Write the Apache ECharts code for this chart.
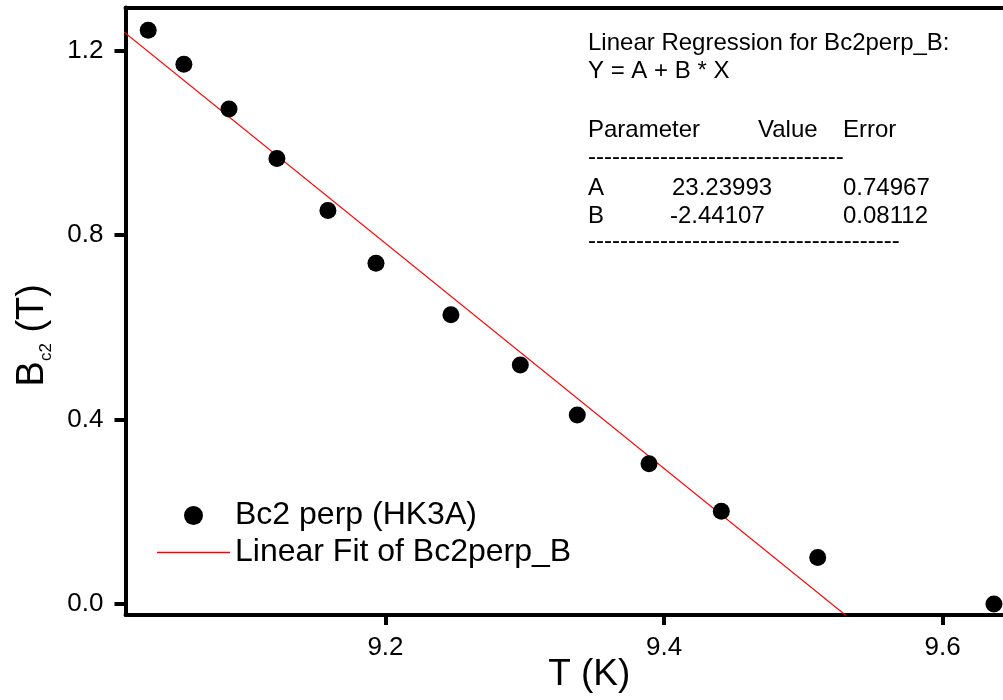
<!DOCTYPE html>
<html><head><meta charset="utf-8">
<script src="https://cdn.jsdelivr.net/npm/echarts@6/dist/echarts.min.js"></script>
<style>html,body{margin:0;padding:0;background:#fff}#c{width:1003px;height:700px}</style>
</head><body><div id="c"></div>
<script>
// ---- data ----
const tempK = [9.0297, 9.0553, 9.0877, 9.1221, 9.1587, 9.1932, 9.2470, 9.2968, 9.3377, 9.3892, 9.4411, 9.5103, 9.6368];
const bc2 = [1.244, 1.170, 1.073, 0.966, 0.853, 0.739, 0.627, 0.518, 0.410, 0.304, 0.201, 0.101, 0.000];
const fitT = [9.0, 9.6];
const fitB = [1.2703, -0.1943];
const xTicks = [9.2, 9.4, 9.6];
const yTicks = [0.0, 0.4, 0.8, 1.2];
const seriesNames = ['Bc2 perp (HK3A)', 'Linear Fit of Bc2perp_B'];
const regTitle = ['Linear Regression for Bc2perp_B:', 'Y = A + B * X'];
const regHeader = ['Parameter', 'Value', 'Error'];
const regRows = [['A', '23.23993', '0.74967'], ['B', '-2.44107', '0.08112']];

const FONT = '"Liberation Sans", Arial, sans-serif';
const chart = echarts.init(document.getElementById('c'), null, {renderer: 'canvas'});

const scatterData = tempK.map((t, i) => [t, bc2[i]]);
const fitData = fitT.map((t, i) => [t, fitB[i]]);

function txt(x, y, s, size) {
  return {type: 'text', x: x, y: y, silent: true,
    style: {text: s, fill: '#000', fontSize: size || 24, fontFamily: FONT, align: 'left', verticalAlign: 'middle'}};
}
const colX = [588, 758, 843];
const rowX = [588, 672, 843];
const graphics = [
  txt(588, 43.5, regTitle[0]),
  txt(588, 71, regTitle[1]),
  txt(colX[0], 130.5, regHeader[0]),
  txt(colX[1], 130.5, regHeader[1]),
  txt(colX[2], 130.5, regHeader[2]),
  txt(588, 157.5, '-'.repeat(32)),
  txt(rowX[0], 188, regRows[0][0]),
  txt(rowX[1], 188, regRows[0][1]),
  txt(rowX[2], 188, regRows[0][2]),
  txt(rowX[0], 216, regRows[1][0]),
  txt(670, 216, regRows[1][1]),
  txt(rowX[2], 216, regRows[1][2]),
  txt(588, 241.5, '-'.repeat(39))
];

const xMin = 9.0134, xMax = 9.6433, yMin = -0.0238, yMax = 1.2932;
const axisLineStyle = {color: '#000', width: 4};

chart.setOption({
  animation: false,
  backgroundColor: '#fff',
  grid: {left: 125.5, right: 0, top: 7.5, bottom: 85, containLabel: false, outerBoundsMode: 'none'},
  xAxis: [{
    type: 'value', position: 'bottom', min: xMin, max: xMax,
    axisLine: {show: true, onZero: false, lineStyle: axisLineStyle},
    axisTick: {show: true, customValues: xTicks, length: 10, inside: false, lineStyle: {color: '#000', width: 4}},
    axisLabel: {customValues: xTicks, formatter: v => v.toFixed(1), fontSize: 26, color: '#000', fontFamily: FONT, margin: 20},
    splitLine: {show: false},
    name: 'T (K)', nameLocation: 'middle', nameGap: 41, nameMoveOverlap: false,
    nameTextStyle: {fontSize: 37, color: '#000', fontFamily: FONT, padding: [0, 0, 0, 50]}
  }, {
    type: 'value', position: 'top', min: xMin, max: xMax,
    axisLine: {show: true, onZero: false, lineStyle: axisLineStyle},
    axisTick: {show: false}, axisLabel: {show: false}, splitLine: {show: false}
  }],
  yAxis: {
    type: 'value', min: yMin, max: yMax,
    axisLine: {show: true, onZero: false, lineStyle: axisLineStyle},
    axisTick: {show: true, customValues: yTicks, length: 11, inside: false, lineStyle: {color: '#000', width: 4}},
    axisLabel: {customValues: yTicks, formatter: v => v.toFixed(1), fontSize: 26, color: '#000', fontFamily: FONT, margin: 22},
    splitLine: {show: false},
    name: '{b|B}{s|c2}{b| (T)}', nameLocation: 'middle', nameRotate: 90, nameGap: 71, nameMoveOverlap: false,
    nameTextStyle: {
      color: '#000', padding: [0, 48, 0, 0],
      rich: {
        b: {fontSize: 38, lineHeight: 44, fontFamily: FONT, color: '#000'},
        s: {fontSize: 17, lineHeight: 10, verticalAlign: 'bottom', fontFamily: FONT, color: '#000'}
      }
    }
  },
  legend: {
    show: true, orient: 'vertical', left: 152, top: 492,
    itemWidth: 73, itemHeight: 19, itemGap: 0,
    textStyle: {fontSize: 32, lineHeight: 37, color: '#000', fontFamily: FONT},
    data: [
      {name: seriesNames[0], icon: 'circle', itemStyle: {color: '#000', opacity: 1}},
      {name: seriesNames[1], icon: 'path://M0 0H73V1.3H0Z', itemStyle: {color: '#ff0000', opacity: 1, borderWidth: 0}}
    ]
  },
  graphic: graphics,
  series: [{
    name: seriesNames[0], type: 'scatter', data: scatterData,
    symbol: 'circle', symbolSize: 17, itemStyle: {color: '#000', opacity: 1}, z: 3
  }, {
    name: seriesNames[1], type: 'line', data: fitData,
    symbol: 'none', showSymbol: false, clip: true,
    lineStyle: {color: '#ff0000', width: 1.2}, itemStyle: {color: '#ff0000'}, z: 2
  }]
});
</script>
</body></html>
